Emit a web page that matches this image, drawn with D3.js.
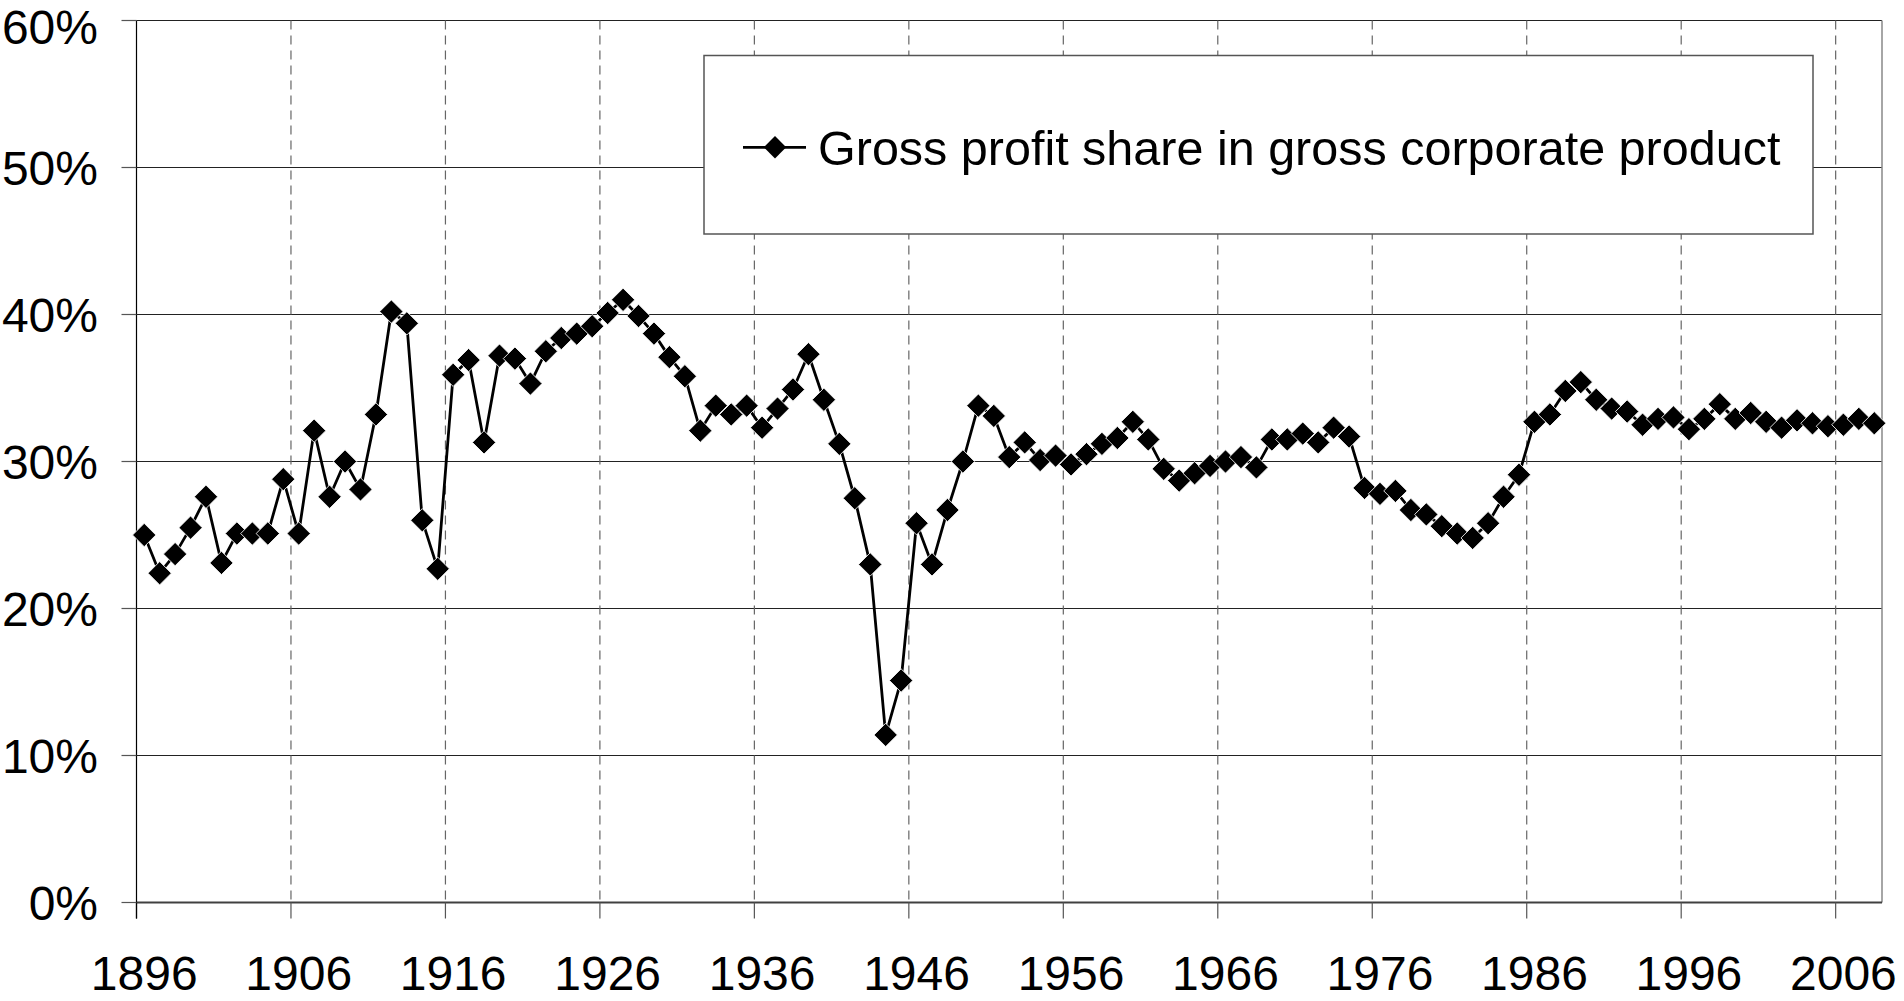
<!DOCTYPE html>
<html>
<head>
<meta charset="utf-8">
<script src="https://cdn.jsdelivr.net/npm/d3@7"></script>
<style>
  html, body { margin: 0; padding: 0; background: #fff; }
  svg { display: block; }
  text { font-family: "Liberation Sans", Arial, sans-serif; fill: #000; }
</style>
</head>
<body>
<svg id="chart" width="1904" height="1001"></svg>
<script>
// ---- data ----
const years = [
  1896,1897,1898,1899,1900,1901,1902,1903,1904,1905,
  1906,1907,1908,1909,1910,1911,1912,1913,1914,1915,
  1916,1917,1918,1919,1920,1921,1922,1923,1924,1925,
  1926,1927,1928,1929,1930,1931,1932,1933,1934,1935,
  1936,1937,1938,1939,1940,1941,1942,1943,1944,1945,
  1946,1947,1948,1949,1950,1951,1952,1953,1954,1955,
  1956,1957,1958,1959,1960,1961,1962,1963,1964,1965,
  1966,1967,1968,1969,1970,1971,1972,1973,1974,1975,
  1976,1977,1978,1979,1980,1981,1982,1983,1984,1985,
  1986,1987,1988,1989,1990,1991,1992,1993,1994,1995,
  1996,1997,1998,1999,2000,2001,2002,2003,2004,2005,
  2006,2007,2008
];
const grossProfitShare = [
  25.0,22.4,23.7,25.5,27.6,23.1,25.1,25.1,25.1,28.8,
  25.1,32.1,27.6,30.0,28.1,33.2,40.2,39.4,26.0,22.7,
  35.9,36.9,31.3,37.2,37.0,35.3,37.5,38.4,38.7,39.2,
  40.1,41.0,39.9,38.7,37.1,35.8,32.1,33.8,33.2,33.8,
  32.3,33.6,34.9,37.3,34.2,31.2,27.5,23.0,11.4,15.1,
  25.8,23.0,26.7,30.0,33.8,33.1,30.3,31.3,30.1,30.4,
  29.8,30.5,31.2,31.6,32.7,31.5,29.5,28.7,29.2,29.7,
  30.0,30.3,29.6,31.5,31.5,31.9,31.3,32.3,31.7,28.2,
  27.8,28.0,26.7,26.4,25.6,25.1,24.8,25.8,27.6,29.1,
  32.7,33.2,34.8,35.4,34.2,33.6,33.4,32.5,32.9,33.0,
  32.2,32.9,33.9,32.9,33.3,32.7,32.3,32.8,32.6,32.4,
  32.5,32.9,32.6
];
const yTicks = [0, 10, 20, 30, 40, 50, 60];
const yTickLabels = ["0%", "10%", "20%", "30%", "40%", "50%", "60%"];
const xTickYears = [1896, 1906, 1916, 1926, 1936, 1946, 1956, 1966, 1976, 1986, 1996, 2006];
const seriesName = "Gross profit share in gross corporate product";

// ---- layout ----
const L = 136.5, R = 1882, T = 20.5, B = 902.5;
const svg = d3.select("#chart");
svg.append("rect").attr("width", 1904).attr("height", 1001).attr("fill", "#fff");

const x = d3.scaleBand().domain(years).range([L, R]).padding(0);
const y = d3.scaleLinear().domain([0, 60]).range([B, T]);
const cx = d => x(d) + x.bandwidth() / 2;

// horizontal gridlines
svg.append("g").selectAll("line").data(yTicks.filter(t => t > 0)).join("line")
  .attr("x1", L).attr("x2", R)
  .attr("y1", d => y(d)).attr("y2", d => y(d))
  .attr("stroke", "#222").attr("stroke-width", 1.2);

// vertical dashed gridlines at category boundaries
svg.append("g").selectAll("line").data(xTickYears.filter(v => v !== years[0])).join("line")
  .attr("x1", d => x(d)).attr("x2", d => x(d))
  .attr("y1", T).attr("y2", B)
  .attr("stroke", "#666").attr("stroke-width", 1.2)
  .attr("stroke-dasharray", "9,6");

// right border
svg.append("line").attr("x1", R).attr("x2", R).attr("y1", T).attr("y2", B)
  .attr("stroke", "#888").attr("stroke-width", 1.5);

// x axis line and ticks
svg.append("line").attr("x1", L).attr("x2", R).attr("y1", B).attr("y2", B)
  .attr("stroke", "#404040").attr("stroke-width", 2);
svg.append("g").selectAll("line").data(xTickYears).join("line")
  .attr("x1", d => x(d)).attr("x2", d => x(d))
  .attr("y1", B).attr("y2", B + 16)
  .attr("stroke", (d, i) => i === 0 ? "#000" : "#555").attr("stroke-width", 1.2);

// y axis line and ticks
svg.append("line").attr("x1", L).attr("x2", L).attr("y1", T).attr("y2", B + 16)
  .attr("stroke", "#000").attr("stroke-width", 1.2);
svg.append("g").selectAll("line").data(yTicks).join("line")
  .attr("x1", L - 15).attr("x2", L)
  .attr("y1", d => y(d)).attr("y2", d => y(d))
  .attr("stroke", "#555").attr("stroke-width", 1.2);

// y labels (top one kept inside the page)
svg.append("g").selectAll("text").data(yTicks).join("text")
  .attr("x", 98).attr("y", d => Math.max(y(d) + 17.5, 44))
  .attr("text-anchor", "end").attr("font-size", 48)
  .text((d, i) => yTickLabels[i]);

// x labels
svg.append("g").selectAll("text").data(xTickYears).join("text")
  .attr("x", d => cx(d)).attr("y", 990)
  .attr("text-anchor", "middle").attr("font-size", 48)
  .text(d => String(d));

// legend box
const lg = svg.append("g");
lg.append("rect").attr("x", 704).attr("y", 55.5).attr("width", 1109).attr("height", 178.5)
  .attr("fill", "#fff").attr("stroke", "#555").attr("stroke-width", 1.5);

// series line
const line = d3.line().x((d, i) => cx(years[i])).y(d => y(d));
svg.append("path").datum(grossProfitShare)
  .attr("d", line).attr("fill", "none")
  .attr("stroke", "#000").attr("stroke-width", 2.8).attr("stroke-linejoin", "round");

// markers
const diamond = d3.symbol(d3.symbolSquare, 272);
svg.append("g").selectAll("path").data(grossProfitShare).join("path")
  .attr("d", diamond)
  .attr("transform", (d, i) => `translate(${cx(years[i])},${y(d)}) rotate(45)`)
  .attr("fill", "#000").attr("stroke", "#fff").attr("stroke-width", 0.8);

// legend content
lg.append("line").attr("x1", 743).attr("x2", 806).attr("y1", 147.3).attr("y2", 147.3)
  .attr("stroke", "#000").attr("stroke-width", 2.8);
lg.append("path").attr("d", d3.symbol(d3.symbolSquare, 250))
  .attr("transform", "translate(775,147.3) rotate(45)").attr("fill", "#000");
lg.append("text").attr("x", 818).attr("y", 164.5).attr("font-size", 48.5).text(seriesName);
</script>
</body>
</html>
